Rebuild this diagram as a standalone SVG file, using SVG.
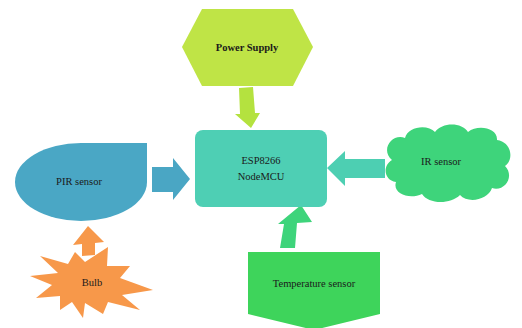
<svg xmlns="http://www.w3.org/2000/svg" width="522" height="328" viewBox="0 0 522 328">
<style>
text{font-family:"Liberation Serif","Times New Roman",serif;font-size:10.5px;fill:#1a1a1a;text-anchor:middle}
.b{font-weight:bold}
</style>
<rect width="522" height="328" fill="#fff"/>
<g id="connectors">
<polygon points="239,88 253,87 255,113 260,113 251,128 235,114 240,114" fill="#b4e23f"/>
<polygon points="385,159 345,159 345,151 327,168 345,186 345,178 385,178" fill="#4dcfb2"/>
<polygon points="152,167 173,167 173,158 190,179 173,200 173,192 152,192" fill="#4aa6c4"/>
<polygon points="82,256 95,255 95,243 104,242 88,226 73,245 82,244" fill="#f7984a"/>
<polygon points="280,248 295,248 297,223 312,222 301,205 278,224 284,224" fill="#3ed47b"/>
</g>
<g id="power"><polygon points="182,47 202,9 293,9 313,47 293,86 202,86" fill="#bfe446"/><text class="b" x="247" y="51">Power Supply</text></g>
<g id="esp"><rect x="195" y="130" width="132" height="77" rx="8" fill="#4ecfb4"/><text x="261" y="164">ESP8266</text><text x="261" y="180">NodeMCU</text></g>
<g id="pir"><path d="M147 143 L147 182 A66 39 0 0 1 81 221 A66 39 0 0 1 15 182 A66 39 0 0 1 81 143 Z" fill="#4aa7c5"/><text x="79" y="185">PIR sensor</text></g>
<g id="ir"><path d="M392 160 C380 150 392 133 405 138 C408 126 428 124 435 132 C442 122 462 122 468 132 C478 124 498 128 497 140 C512 142 514 160 505 166 C515 176 505 192 492 188 C488 200 468 204 460 195 C450 205 428 204 422 194 C410 200 392 194 396 182 C384 180 382 166 392 160 Z" fill="#3ed47b"/><text x="441" y="165">IR sensor</text></g>
<g id="bulb"><polygon points="30,276 58,273 40,256 68,264 75,252 85,262 108,247 107,266 130,266 120,278 153,290 122,295 140,310 108,302 103,314 85,303 83,318 72,302 60,310 60,296 36,298 52,285" fill="#f7984a"/><text x="92" y="286">Bulb</text></g>
<g id="temp"><polygon points="248,252 380,252 380,314 314,330 248,314" fill="#3ed45b"/><text x="314" y="287">Temperature sensor</text></g>
</svg>
